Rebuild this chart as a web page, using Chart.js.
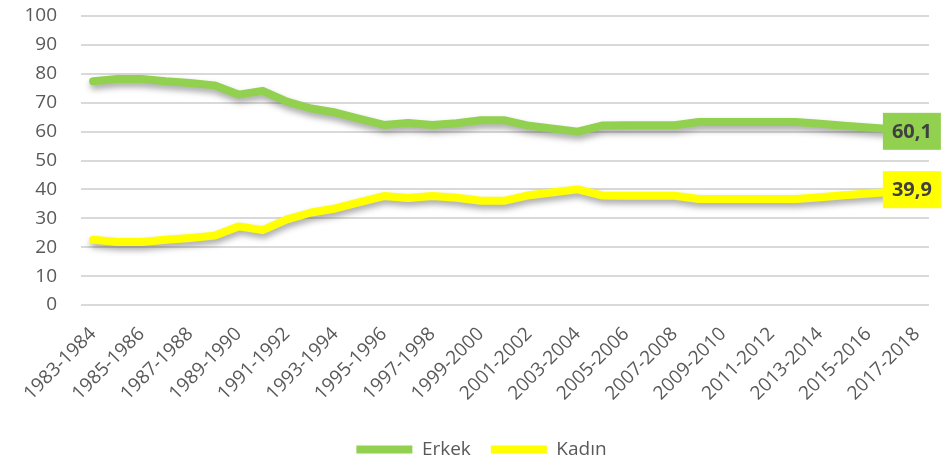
<!DOCTYPE html>
<html>
<head>
<meta charset="utf-8">
<script src="https://cdn.jsdelivr.net/npm/chart.js@4"></script>
<style>
    body { margin: 0; background: #fff; }
    #wrap { width: 945px; height: 461px; position: relative; }
</style>
</head>
<body>
<div id="wrap"><canvas id="chart"></canvas></div>
<script>
// Chart data
const periods = [
    '1983-1984', '1984-1985', '1985-1986', '1986-1987', '1987-1988', '1988-1989', '1989-1990',
    '1990-1991', '1991-1992', '1992-1993', '1993-1994', '1994-1995', '1995-1996', '1996-1997',
    '1997-1998', '1998-1999', '1999-2000', '2000-2001', '2001-2002', '2002-2003', '2003-2004',
    '2004-2005', '2005-2006', '2006-2007', '2007-2008', '2008-2009', '2009-2010', '2010-2011',
    '2011-2012', '2012-2013', '2013-2014', '2014-2015', '2015-2016', '2016-2017', '2017-2018'
];
const erkek = [
    77.4, 78.2, 78.2, 77.4, 76.8, 76.0, 72.8, 74.1, 70.4, 68.0, 66.6, 64.4, 62.3, 63.0,
    62.3, 62.9, 63.9, 63.9, 62.0, 61.0, 60.0, 62.1, 62.2, 62.2, 62.2, 63.3, 63.3, 63.3,
    63.3, 63.3, 62.7, 62.0, 61.4, 60.8, 60.1
];
const kadin = [
    22.6, 21.8, 21.8, 22.6, 23.2, 24.0, 27.2, 25.9, 29.6, 32.0, 33.4, 35.6, 37.7, 37.0,
    37.7, 37.1, 36.1, 36.1, 38.0, 39.0, 40.0, 37.9, 37.8, 37.8, 37.8, 36.7, 36.7, 36.7,
    36.7, 36.7, 37.3, 38.0, 38.6, 39.2, 39.9
];
const yTicks = [0, 10, 20, 30, 40, 50, 60, 70, 80, 90, 100];

const FONT = '"Open Sans", "DejaVu Sans", sans-serif';
const GREY = '#595959';

// Soft drop shadow under each line, like the Excel original
const lineShadow = {
    id: 'lineShadow',
    beforeDatasetDraw(chart) {
        const ctx = chart.ctx;
        ctx.save();
        ctx.shadowColor = 'rgba(0, 0, 0, 0.35)';
        ctx.shadowBlur = 6;
        ctx.shadowOffsetX = 1;
        ctx.shadowOffsetY = 4;
    },
    afterDatasetDraw(chart) {
        chart.ctx.restore();
    }
};

// Excel puts the legend a bit right of centre
const legendShift = {
    id: 'legendShift',
    afterLayout(chart) {
        chart.legend.left += 17;
        chart.legend.right += 17;
    }
};

// Value box on the last point of each series
const endLabels = {
    id: 'endLabels',
    afterDatasetsDraw(chart) {
        const ctx = chart.ctx;
        chart.data.datasets.forEach((ds, i) => {
            const meta = chart.getDatasetMeta(i);
            const pt = meta.data[meta.data.length - 1];
            const val = ds.data[ds.data.length - 1];
            const text = val.toFixed(1).replace('.', ',');
            const w = 58, h = 37;
            const cx = pt.x - 5;
            ctx.save();
            ctx.fillStyle = ds.borderColor;
            ctx.fillRect(cx - w / 2, pt.y - h / 2, w, h);
            ctx.font = 'bold 20px ' + FONT;
            ctx.fillStyle = '#404040';
            ctx.textAlign = 'center';
            ctx.textBaseline = 'middle';
            ctx.fillText(text, cx, pt.y + 1);
            ctx.restore();
        });
    }
};

const ctx = document.getElementById('chart').getContext('2d');
new Chart(ctx, {
    type: 'line',
    data: {
        labels: periods,
        datasets: [
            {
                label: 'Erkek',
                data: erkek,
                borderColor: '#92D050',
                backgroundColor: '#92D050',
                borderWidth: 8,
                borderCapStyle: 'round',
                borderJoinStyle: 'round',
                pointRadius: 0,
                tension: 0
            },
            {
                label: 'Kadın',
                data: kadin,
                borderColor: '#FFFF00',
                backgroundColor: '#FFFF00',
                borderWidth: 8,
                borderCapStyle: 'round',
                borderJoinStyle: 'round',
                pointRadius: 0,
                tension: 0
            }
        ]
    },
    options: {
        responsive: true,
        maintainAspectRatio: false,
        animation: false,
        layout: { padding: { top: 16, right: 16, left: 0, bottom: -8 } },
        plugins: {
            tooltip: { enabled: false },
            legend: {
                position: 'bottom',
                labels: {
                    usePointStyle: true,
                    pointStyle: 'line',
                    pointStyleWidth: 56,
                    padding: 20,
                    color: GREY,
                    font: { family: FONT, size: 19 }
                }
            }
        },
        scales: {
            x: {
                offset: true,
                grid: { display: false },
                border: { display: false },
                ticks: {
                    autoSkip: false,
                    maxRotation: 45,
                    minRotation: 45,
                    padding: 10,
                    color: GREY,
                    font: { family: FONT, size: 19 },
                    callback: (v, i) => (i % 2 === 0 ? periods[i] : null)
                },
                afterFit: (scale) => { scale.height = 115; }
            },
            y: {
                min: 0,
                max: 100,
                afterBuildTicks: (scale) => { scale.ticks = yTicks.map(v => ({ value: v })); },
                grid: { color: '#d9d9d9', lineWidth: 2, drawTicks: false },
                border: { display: false },
                ticks: {
                    padding: 24,
                    color: GREY,
                    font: { family: FONT, size: 19 }
                },
                afterFit: (scale) => {
                    scale.width = 81;
                    scale.paddingTop = 0;
                    scale.paddingBottom = 0;
                }
            }
        }
    },
    plugins: [lineShadow, legendShift, endLabels]
});
</script>
</body>
</html>
